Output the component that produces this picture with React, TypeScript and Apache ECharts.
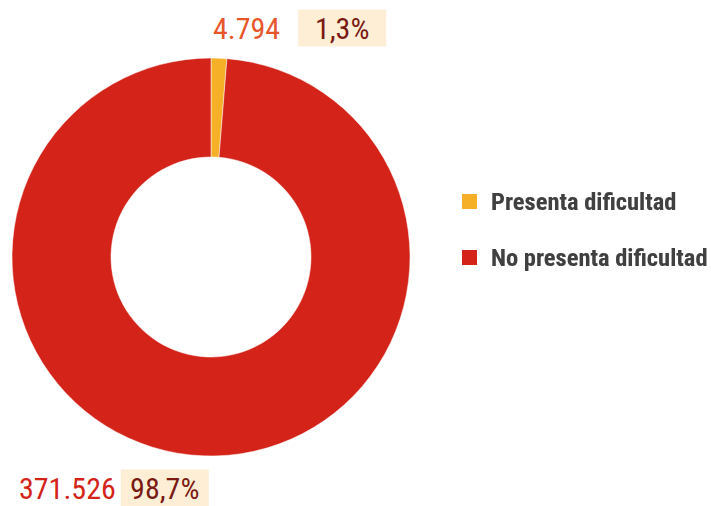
import React, { useEffect, useRef } from "react";
import * as echarts from "echarts";

const categories = ["Presenta dificultad", "No presenta dificultad"];
const values = [4794, 371526];
const valueLabels = ["4.794", "371.526"];
const percentLabels = ["1,3%", "98,7%"];
const colors = ["#f5b027", "#d42419"];
const valueColors = ["#e8552a", "#d42419"];

const FONT = "'Roboto Condensed', 'Liberation Sans Narrow', 'Arial Narrow', sans-serif";

export default function App() {
  const ref = useRef<HTMLDivElement>(null);
  useEffect(() => {
    document.body.style.margin = "0";
    const chart = echarts.init(ref.current!, null, { renderer: "svg" });
    const gaps = [18, 5];
    chart.setOption({
      animation: false,
      backgroundColor: "#ffffff",
      legend: {
        orient: "vertical",
        left: 455,
        top: 184,
        itemWidth: 17,
        itemHeight: 17,
        itemGap: 31,
        icon: "rect",
        data: categories,
        textStyle: {
          fontFamily: FONT,
          fontWeight: "bold",
          fontSize: 24.5,
          color: "#404040",
          padding: [0, 0, 0, 8],
          textShadowColor: "rgba(0,0,0,0.25)",
          textShadowBlur: 1,
        },
      },
      series: [
        {
          type: "pie",
          center: [211, 257],
          radius: [100, 199],
          startAngle: 90,
          clockwise: true,
          avoidLabelOverlap: false,
          labelLine: { show: false },
          itemStyle: { borderColor: "#ffffff", borderWidth: 0.5 },
          label: {
            show: true,
            position: "outside",
            fontFamily: FONT,
          },
          labelLayout: (p: any) => {
            if (p.dataIndex === 0) {
              return { x: 213, y: 28, align: "left", verticalAlign: "middle" };
            }
            return { x: 19, y: 488, align: "left", verticalAlign: "middle" };
          },
          data: categories.map((name, i) => ({
            name,
            value: values[i],
            itemStyle: { color: colors[i] },
            label: {
              formatter: `{v|${valueLabels[i]}}{g|}{p|${percentLabels[i]}}`,
              rich: {
                v: { fontFamily: FONT, fontSize: 30, color: valueColors[i] },
                g: { width: gaps[i] },
                p: {
                  fontFamily: FONT,
                  fontSize: 30,
                  color: "#7a1a12",
                  backgroundColor: "#fdeed5",
                  width: 62,
                  align: "center",
                  padding: [4, 13, 3, 13],
                },
              },
            },
          })),
        },
      ],
    });
    return () => chart.dispose();
  }, []);
  return (
    <div
      ref={ref}
      style={{ position: "absolute", left: 0, top: 0, width: 711, height: 506 }}
    />
  );
}
